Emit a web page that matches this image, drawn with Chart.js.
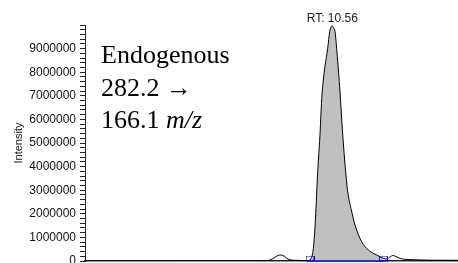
<!DOCTYPE html>
<html>
<head>
<meta charset="utf-8">
<script src="https://cdn.jsdelivr.net/npm/chart.js@4"></script>
<style>
  html, body { margin: 0; padding: 0; background: #fff; }
</style>
</head>
<body>
<canvas id="chromChart" width="458" height="263"></canvas>
<script>
// retention time (min) and intensity
const retentionTimes = [
    8.571, 9.300, 9.900, 10.020, 10.059, 10.091, 10.123, 10.147, 10.172, 10.196,
    10.228, 10.268, 10.316, 10.365, 10.381, 10.389, 10.399, 10.413, 10.429, 10.439,
    10.449, 10.461, 10.469, 10.477, 10.487, 10.501, 10.523, 10.539, 10.550, 10.560,
    10.570, 10.582, 10.595, 10.606, 10.616, 10.622, 10.632, 10.644, 10.658, 10.670,
    10.684, 10.710, 10.743, 10.796, 10.850, 10.917, 10.970, 11.000, 11.024, 11.048,
    11.072, 11.105, 11.145, 11.225, 11.346, 11.571
];
const intensities = [
    0, 0, 4000, 8000, 42000, 127000, 233000, 254000, 212000, 106000,
    42000, 30000, 21000, 21000, 42000, 106000, 254000, 818000, 2233000, 3432000,
    4364000, 5339000, 6271000, 7034000, 7627000, 8242000, 9013000, 9716000, 9915000, 9960000,
    9873000, 9716000, 9013000, 8305000, 7597000, 7161000, 6314000, 5339000, 4364000, 3644000,
    2932000, 2233000, 1525000, 818000, 466000, 254000, 114000, 85000, 169000, 233000,
    191000, 106000, 72000, 51000, 34000, 30000
];

// integrated peak
const peakStart = 10.381;
const peakEnd = 10.970;
const apexRT = 10.56;

const rtRange = [8.571, 11.571];
const yMax = 10000000;
const yMajorStep = 1000000;
const yMinorStep = 200000;

const labelLines = ['Endogenous', '282.2 \u2192', '166.1 '];
const labelUnit = 'm/z';

const trace = retentionTimes.map((t, i) => ({ x: t, y: intensities[i] }));
const peakArea = trace.filter(p => p.x >= peakStart && p.x <= peakEnd);
const baseline = [{ x: peakStart, y: 0 }, { x: peakEnd, y: 0 }];

function boundaryMarker() {
    const c = document.createElement('canvas');
    c.width = 9;
    c.height = 11;
    const g = c.getContext('2d');
    g.strokeStyle = '#0000ff';
    g.lineWidth = 1;
    g.strokeRect(0.5, 0.5, 8, 5);
    return c;
}

const labelsPlugin = {
    id: 'peakLabels',
    afterDatasetsDraw(chart) {
        const ctx = chart.ctx;
        const xs = chart.scales.x;
        const ys = chart.scales.y;
        const i = retentionTimes.indexOf(apexRT);

        ctx.save();
        ctx.fillStyle = '#222';
        ctx.font = '12px "Liberation Sans", Arial, sans-serif';
        ctx.textAlign = 'center';
        ctx.textBaseline = 'alphabetic';
        ctx.fillText('RT: ' + apexRT.toFixed(2), xs.getPixelForValue(apexRT), ys.getPixelForValue(intensities[i]) - 3.5);

        ctx.fillStyle = '#000';
        ctx.textAlign = 'left';
        ctx.font = '26px "Liberation Serif", "Times New Roman", serif';
        const lx = 101;
        ctx.fillText(labelLines[0], lx, 63);
        ctx.fillText(labelLines[1], lx, 95.5);
        ctx.fillText(labelLines[2], lx, 128);
        const w = ctx.measureText(labelLines[2]).width;
        ctx.font = 'italic 26px "Liberation Serif", "Times New Roman", serif';
        ctx.fillText(labelUnit, lx + w, 128);
        ctx.restore();
    }
};

new Chart(document.getElementById('chromChart'), {
    type: 'line',
    data: {
        datasets: [
            {
                data: baseline,
                borderColor: '#0000ff',
                borderWidth: 1.5,
                pointStyle: boundaryMarker(),
                pointRadius: 4,
                clip: false,
                order: 0
            },
            {
                data: trace,
                borderColor: '#000',
                borderWidth: 1,
                pointRadius: 0,
                cubicInterpolationMode: 'monotone',
                fill: false,
                order: 1
            },
            {
                data: peakArea,
                borderWidth: 0,
                backgroundColor: '#c0c0c0',
                pointRadius: 0,
                cubicInterpolationMode: 'monotone',
                fill: 'origin',
                order: 2
            }
        ]
    },
    options: {
        responsive: false,
        animation: false,
        layout: { autoPadding: false, padding: { top: 25, right: 0, bottom: 2, left: 0 } },
        plugins: {
            legend: { display: false },
            tooltip: { enabled: false }
        },
        scales: {
            x: {
                type: 'linear',
                min: rtRange[0],
                max: rtRange[1],
                ticks: { display: false },
                grid: { display: false },
                border: { color: '#222', width: 1.5 },
                afterFit(scale) {
                    scale.height = 0;
                    scale.paddingLeft = 0;
                    scale.paddingRight = 0;
                }
            },
            y: {
                min: 0,
                max: yMax,
                ticks: {
                    stepSize: yMinorStep,
                    autoSkip: false,
                    padding: 4,
                    color: '#111',
                    font: { family: '"Liberation Sans", Arial, sans-serif', size: 12 },
                    callback: v => (v % yMajorStep === 0 && v < yMax) ? String(v) : ''
                },
                grid: {
                    drawOnChartArea: false,
                    tickLength: 5,
                    tickColor: '#222',
                    tickWidth: 1
                },
                border: { color: '#222', width: 1 },
                title: {
                    display: true,
                    text: 'Intensity',
                    color: '#111',
                    padding: { top: 12, bottom: 0 },
                    font: { family: '"Liberation Sans", Arial, sans-serif', size: 11 }
                },
                afterFit(scale) {
                    scale.width = 85;
                    scale.paddingTop = 0;
                    scale.paddingBottom = 0;
                }
            }
        }
    },
    plugins: [labelsPlugin]
});
</script>
</body>
</html>
